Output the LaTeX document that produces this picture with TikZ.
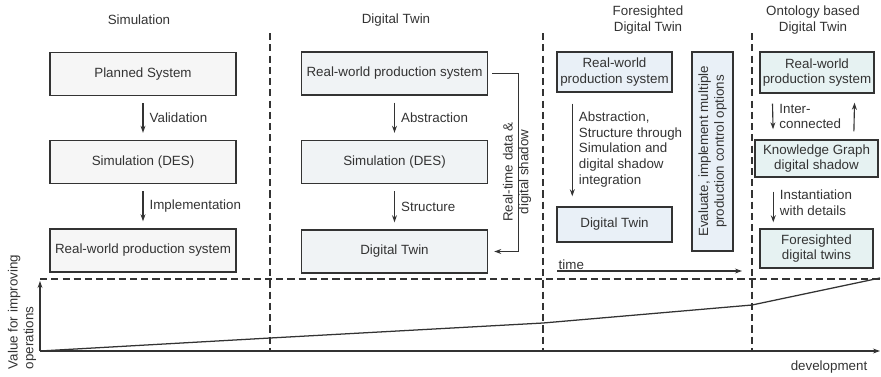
\documentclass[tikz,border=0pt]{standalone}
\usepackage{fontspec}
\setmainfont{Liberation Sans}
\usetikzlibrary{arrows.meta,positioning}
\definecolor{ink}{HTML}{333333}
\definecolor{simfill}{HTML}{F6F6F6}
\definecolor{dtfill}{HTML}{F0F3F5}
\definecolor{fdtfill}{HTML}{E9F0F7}
\definecolor{ontofill}{HTML}{E6F2F2}

\begin{document}
\begin{tikzpicture}[x=0.025cm,y=-0.025cm,
  every node/.style={font=\fontsize{9.5}{11.3}\selectfont,text=ink},
  box/.style={draw=ink,line width=1pt,inner sep=2pt,align=center},
  flow/.style={draw=ink,line width=0.8pt,-{Stealth[length=5pt,width=3.5pt]}},
  divider/.style={draw=ink,line width=0.8pt,dash pattern=on 5pt off 3pt},
  lbl/.style={right,align=left,xshift=1pt}]
\useasboundingbox (0,0) rectangle (881,376);

% column titles
\node (t-sim) at (139,20) {Simulation};
\node (t-dt) at (396,20) {Digital Twin};
\node[align=center] (t-fdt) at (648,20) {Foresighted\\Digital Twin};
\node[align=center] (t-onto) at (813,20) {Ontology based\\Digital Twin};

% dividers
\draw[divider] (270,33) -- (270,351);
\draw[divider] (543,33) -- (543,351);
\draw[divider] (752,33) -- (752,351);
\draw[divider] (40,279) -- (881,279);

% simulation
\node[box,fill=simfill,minimum width=4.65cm,minimum height=1.075cm] (sim-plan) at (143,74) {Planned System};
\node[box,fill=simfill,minimum width=4.65cm,minimum height=1.075cm] (sim-des) at (143,162) {Simulation (DES)};
\node[box,fill=simfill,minimum width=4.65cm,minimum height=1.075cm] (sim-rw) at (143,250.5) {Real-world production system};
\draw[flow,shorten <=0.175cm,shorten >=0.175cm] (sim-plan) -- (sim-des) node[lbl,midway] {Validation};
\draw[flow,shorten <=0.175cm,shorten >=0.175cm] (sim-des) -- (sim-rw) node[lbl,midway] {Implementation};

% digital twin
\node[box,fill=dtfill,minimum width=4.65cm,minimum height=1.075cm] (dt-rw) at (394.5,73.5) {Real-world production system};
\node[box,fill=dtfill,minimum width=4.65cm,minimum height=1.075cm] (dt-des) at (394.5,162) {Simulation (DES)};
\node[box,fill=dtfill,minimum width=4.65cm,minimum height=1.075cm] (dt-dt) at (394.5,251.5) {Digital Twin};
\draw[flow,shorten <=0.175cm,shorten >=0.175cm] (dt-rw) -- (dt-des) node[lbl,midway] {Abstraction};
\draw[flow,shorten <=0.175cm,shorten >=0.175cm] (dt-des) -- (dt-dt) node[lbl,midway] {Structure};
\draw[flow] ([xshift=0.1cm]dt-rw.east) -- ++(0.65cm,0) |- ([xshift=0.15cm]dt-dt.east);
\node[rotate=90,align=center] (fb-lbl) at (517,172) {Real-time data \&\\digital shadow};

% foresighted digital twin
\node[box,fill=fdtfill,minimum width=2.875cm,minimum height=1cm] (fdt-rw) at (614.5,72) {Real-world\\production system};
\node[box,fill=fdtfill,minimum width=2.875cm,minimum height=0.875cm] (fdt-dt) at (614.5,224.5) {Digital Twin};
\node[box,fill=fdtfill,rotate=90,minimum width=4.975cm,minimum height=1.025cm] (fdt-eval) at (712.5,151.5) {Evaluate, implement multiple\\production control options};
\draw[flow,shorten <=0.275cm,shorten >=0.25cm] ([xshift=0.4cm]fdt-rw.south west) -- ([xshift=0.4cm]fdt-dt.north west)
  node[lbl,midway] {Abstraction,\\Structure through\\Simulation and\\digital shadow\\integration};
\coordinate (t0) at (557,271);
\coordinate (t1) at (742,271);
\draw[flow] (t0) -- (t1);
\node[above right=0pt and 0pt of t0,inner sep=1pt] (t-lbl) {time};

% ontology based digital twin
\node[box,fill=ontofill,minimum width=2.8cm,minimum height=1.025cm] (onto-rw) at (817,72.5) {Real-world\\production system};
\node[box,fill=ontofill,minimum width=3.075cm,minimum height=0.925cm] (onto-kg) at (816.5,158.5) {Knowledge Graph\\digital shadow};
\node[box,fill=ontofill,minimum width=2.825cm,minimum height=0.975cm] (onto-fdt) at (816.5,248.5) {Foresighted\\digital twins};
\draw[flow,shorten <=0.25cm,shorten >=0.25cm] ([xshift=0.325cm]onto-rw.south west) -- ([xshift=0.475cm]onto-kg.north west)
  node[lbl,midway] {Inter-\\connected};
\draw[flow,shorten <=0.2cm,shorten >=0.225cm] ([xshift=-0.625cm]onto-kg.north east) -- ([xshift=-0.5cm]onto-rw.south east);
\draw[flow,shorten <=0.35cm,shorten >=0.15cm] ([xshift=0.475cm]onto-kg.south west) -- ([xshift=0.35cm]onto-fdt.north west)
  node[lbl,midway] {Instantiation\\with details};

% value axes
\coordinate (origin) at (40,351);
\coordinate (vtop) at (40,281);
\coordinate (hend) at (880,351);
\draw[flow] (origin) -- (vtop);
\draw[flow] (origin) -- (hend);
\draw[ink,line width=0.9pt] (origin) -- (270,338) -- (543,323) -- (752,305) -- (880,278);
\node[rotate=90,align=left] (y-lbl) at (22,312) {Value for improving\\operations};
\node (x-lbl) at (829,367) {development};
\end{tikzpicture}
\end{document}
